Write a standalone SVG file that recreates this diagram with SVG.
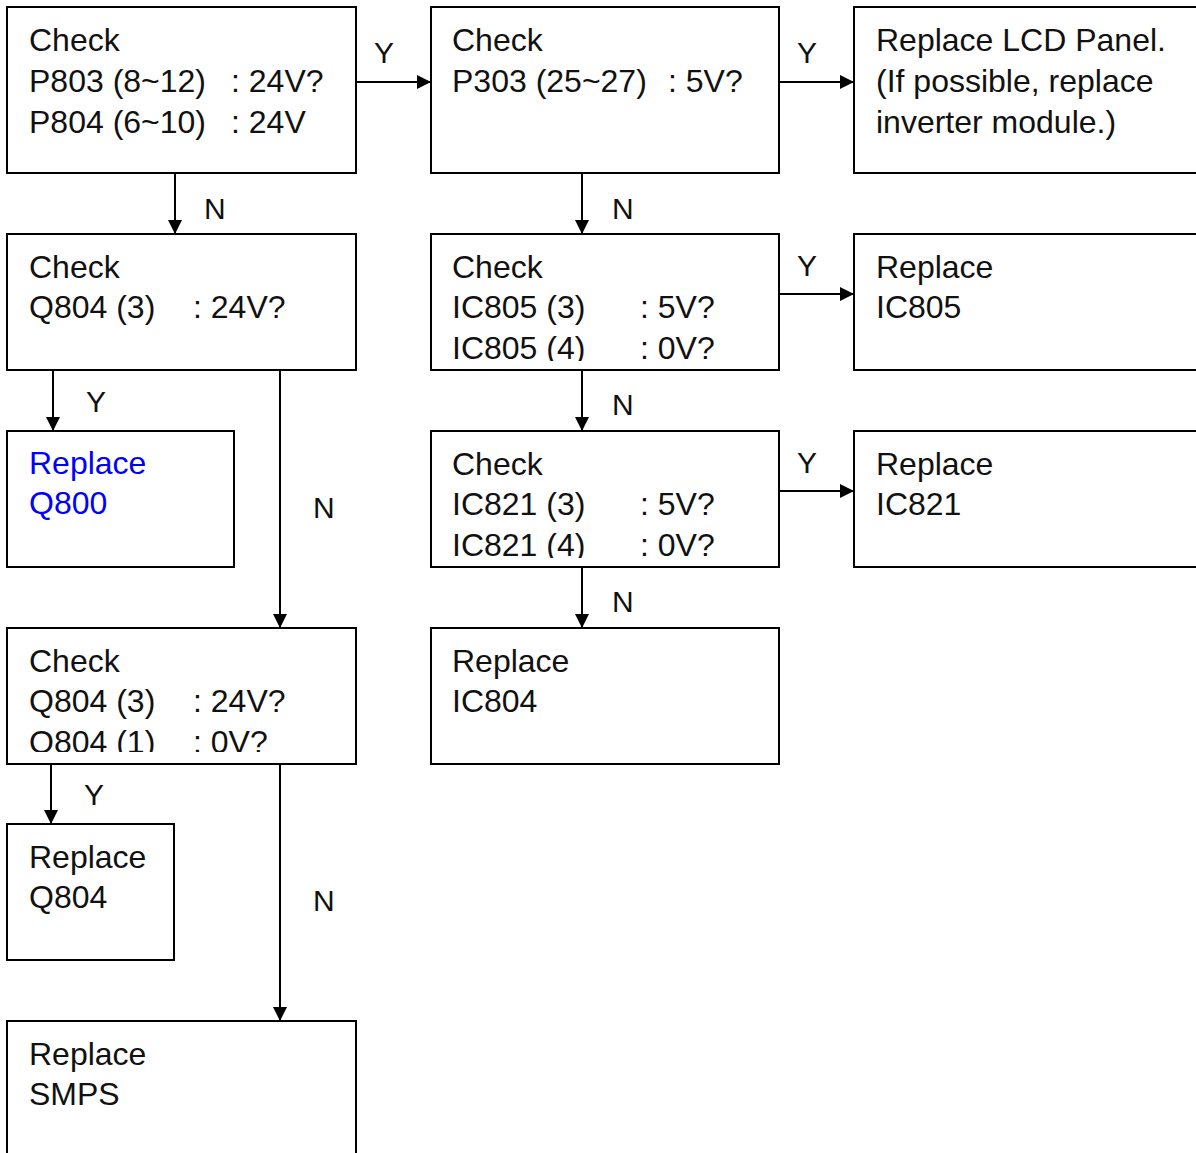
<svg xmlns="http://www.w3.org/2000/svg" width="1196" height="1153" viewBox="0 0 1196 1153">
<style>
.box{fill:#fff;stroke:#000;stroke-width:2}
.t{font-family:"Liberation Sans",Arial,sans-serif;font-size:32px;fill:#111}
.blue{fill:#0000ff}
.lbl{font-family:"Liberation Sans",Arial,sans-serif;font-size:30px;fill:#111}
.ln{stroke:#000;stroke-width:2;fill:none}
</style>
<defs>
<marker id="ah" markerWidth="16" markerHeight="16" refX="14" refY="7" orient="auto" markerUnits="userSpaceOnUse">
<path d="M0,0 L14,7 L0,14 Z" fill="#000"/>
</marker>
<clipPath id="c2"><rect x="7" y="234" width="349" height="127"/></clipPath>
<clipPath id="c2b"><rect x="431" y="234" width="348" height="127"/></clipPath>
<clipPath id="c3b"><rect x="431" y="431" width="348" height="127"/></clipPath>
<clipPath id="c4"><rect x="7" y="628" width="349" height="124"/></clipPath>
</defs>
<rect width="1196" height="1153" fill="#fff"/>
<g id="connectors">
<line class="ln" x1="356" y1="82" x2="431" y2="82" marker-end="url(#ah)"/>
<text class="lbl" x="374" y="63">Y</text>
<line class="ln" x1="779" y1="82" x2="854" y2="82" marker-end="url(#ah)"/>
<text class="lbl" x="797" y="63">Y</text>
<line class="ln" x1="175" y1="173" x2="175" y2="234" marker-end="url(#ah)"/>
<text class="lbl" x="204" y="219">N</text>
<line class="ln" x1="582" y1="173" x2="582" y2="234" marker-end="url(#ah)"/>
<text class="lbl" x="612" y="219">N</text>
<line class="ln" x1="53" y1="370" x2="53" y2="431" marker-end="url(#ah)"/>
<text class="lbl" x="86" y="412">Y</text>
<line class="ln" x1="280" y1="370" x2="280" y2="628" marker-end="url(#ah)"/>
<text class="lbl" x="313" y="518">N</text>
<line class="ln" x1="779" y1="294" x2="854" y2="294" marker-end="url(#ah)"/>
<text class="lbl" x="797" y="276">Y</text>
<line class="ln" x1="582" y1="370" x2="582" y2="431" marker-end="url(#ah)"/>
<text class="lbl" x="612" y="415">N</text>
<line class="ln" x1="779" y1="491" x2="854" y2="491" marker-end="url(#ah)"/>
<text class="lbl" x="797" y="473">Y</text>
<line class="ln" x1="582" y1="567" x2="582" y2="628" marker-end="url(#ah)"/>
<text class="lbl" x="612" y="612">N</text>
<line class="ln" x1="51" y1="764" x2="51" y2="824" marker-end="url(#ah)"/>
<text class="lbl" x="84" y="805">Y</text>
<line class="ln" x1="280" y1="764" x2="280" y2="1021" marker-end="url(#ah)"/>
<text class="lbl" x="313" y="911">N</text>
</g>
<g id="n1">
<rect class="box" x="7" y="7" width="349" height="166"/>
<text class="t"><tspan x="29" y="51">Check</tspan><tspan x="29" y="92">P803 (8~12)</tspan><tspan x="231" y="92">: 24V?</tspan><tspan x="29" y="133">P804 (6~10)</tspan><tspan x="231" y="133">: 24V</tspan></text>
</g>
<g id="n2">
<rect class="box" x="431" y="7" width="348" height="166"/>
<text class="t"><tspan x="452" y="51">Check</tspan><tspan x="452" y="92">P303 (25~27)</tspan><tspan x="668" y="92">: 5V?</tspan></text>
</g>
<g id="n3">
<rect class="box" x="854" y="7" width="350" height="166"/>
<text class="t"><tspan x="876" y="51">Replace LCD Panel.</tspan><tspan x="876" y="92">(If possible, replace</tspan><tspan x="876" y="133">inverter module.)</tspan></text>
</g>
<g id="n4">
<rect class="box" x="7" y="234" width="349" height="136"/>
<text class="t" clip-path="url(#c2)"><tspan x="29" y="278">Check</tspan><tspan x="29" y="318">Q804 (3)</tspan><tspan x="193" y="318">: 24V?</tspan></text>
</g>
<g id="n5">
<rect class="box" x="431" y="234" width="348" height="136"/>
<text class="t" clip-path="url(#c2b)"><tspan x="452" y="278">Check</tspan><tspan x="452" y="318">IC805 (3)</tspan><tspan x="640" y="318">: 5V?</tspan><tspan x="452" y="359">IC805 (4)</tspan><tspan x="640" y="359">: 0V?</tspan></text>
</g>
<g id="n6">
<rect class="box" x="854" y="234" width="350" height="136"/>
<text class="t"><tspan x="876" y="278">Replace</tspan><tspan x="876" y="318">IC805</tspan></text>
</g>
<g id="n7">
<rect class="box" x="7" y="431" width="227" height="136"/>
<text class="t blue"><tspan x="29" y="474">Replace</tspan><tspan x="29" y="514">Q800</tspan></text>
</g>
<g id="n8">
<rect class="box" x="431" y="431" width="348" height="136"/>
<text class="t" clip-path="url(#c3b)"><tspan x="452" y="475">Check</tspan><tspan x="452" y="515">IC821 (3)</tspan><tspan x="640" y="515">: 5V?</tspan><tspan x="452" y="556">IC821 (4)</tspan><tspan x="640" y="556">: 0V?</tspan></text>
</g>
<g id="n9">
<rect class="box" x="854" y="431" width="350" height="136"/>
<text class="t"><tspan x="876" y="475">Replace</tspan><tspan x="876" y="515">IC821</tspan></text>
</g>
<g id="n10">
<rect class="box" x="7" y="628" width="349" height="136"/>
<text class="t" clip-path="url(#c4)"><tspan x="29" y="672">Check</tspan><tspan x="29" y="712">Q804 (3)</tspan><tspan x="193" y="712">: 24V?</tspan><tspan x="29" y="753">Q804 (1)</tspan><tspan x="193" y="753">: 0V?</tspan></text>
</g>
<g id="n11">
<rect class="box" x="431" y="628" width="348" height="136"/>
<text class="t"><tspan x="452" y="672">Replace</tspan><tspan x="452" y="712">IC804</tspan></text>
</g>
<g id="n12">
<rect class="box" x="7" y="824" width="167" height="136"/>
<text class="t"><tspan x="29" y="868">Replace</tspan><tspan x="29" y="908">Q804</tspan></text>
</g>
<g id="n13">
<rect class="box" x="7" y="1021" width="349" height="140"/>
<text class="t"><tspan x="29" y="1065">Replace</tspan><tspan x="29" y="1105">SMPS</tspan></text>
</g>
</svg>
